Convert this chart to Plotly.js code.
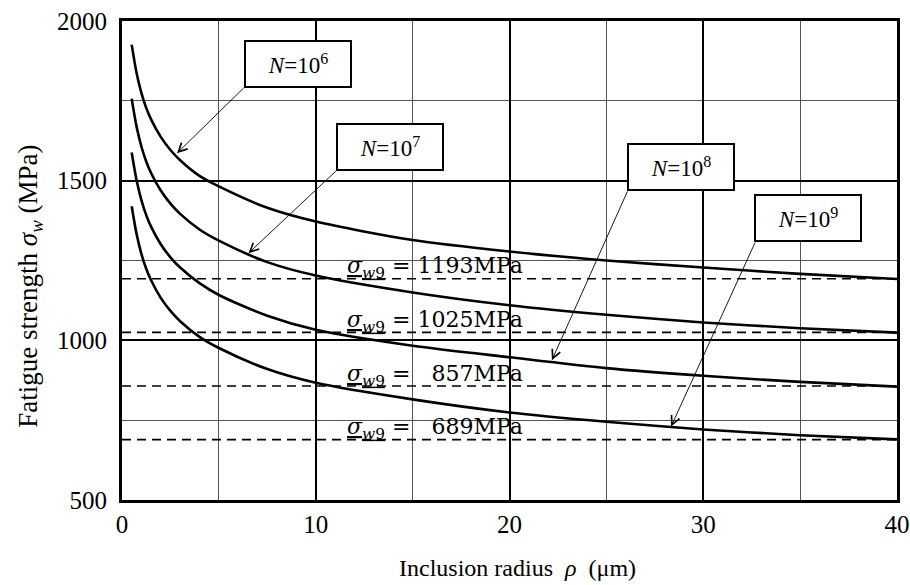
<!DOCTYPE html>
<html>
<head>
<meta charset="utf-8">
<script src="https://cdn.plot.ly/plotly-3.0.1.min.js"></script>
<style>html,body{margin:0;padding:0;background:#fff}#chart{width:910px;height:585px}</style>
</head>
<body>
<div id="chart"></div>
<script>
// Inclusion radius rho (um)
const rho = [0.5, 0.75, 1, 1.25, 1.5, 2, 2.5, 3, 4, 5, 7.5, 10, 15, 20, 25, 30, 35, 40];
// Fatigue strength curves (MPa)
const sigmaN6 = [1926, 1838, 1775, 1728, 1692, 1637, 1596, 1564, 1515, 1482, 1415, 1372, 1314, 1278, 1250, 1228, 1208, 1192];
const sigmaN7 = [1757, 1670, 1607, 1560, 1524, 1469, 1428, 1396, 1347, 1312, 1245, 1203, 1150, 1110, 1080, 1056, 1038, 1024];
const sigmaN8 = [1588, 1502, 1439, 1392, 1356, 1301, 1260, 1228, 1179, 1142, 1077, 1033, 983, 947, 913, 889, 870, 855];
const sigmaN9 = [1420, 1334, 1271, 1224, 1188, 1133, 1092, 1060, 1011, 976, 910, 867, 815, 774, 745, 721, 703, 690];
// Limit values sigma_w9 (MPa)
const sigmaW9 = [1193, 1025, 857, 689];
const sigmaW9Labels = ['1193MPa', '1025MPa', '\u00a0\u00a0857MPa', '\u00a0\u00a0689MPa'];
const curveLabels = ['<i>N</i>=10<sup>6</sup>', '<i>N</i>=10<sup>7</sup>', '<i>N</i>=10<sup>8</sup>', '<i>N</i>=10<sup>9</sup>'];
const xRange = [0, 40];
const yRange = [500, 2000];

const curves = [sigmaN6, sigmaN7, sigmaN8, sigmaN9];
const traces = [];
curves.forEach(c => traces.push({
  x: rho, y: c, mode: 'lines', type: 'scatter',
  line: {color: '#000', width: 2.6, shape: 'spline', smoothing: 0.8}, hoverinfo: 'skip'
}));
sigmaW9.forEach(v => traces.push({
  x: xRange, y: [v, v], mode: 'lines', type: 'scatter',
  line: {color: '#000', width: 1.6, dash: '9px,6px'}, hoverinfo: 'skip'
}));

const serif = "'Liberation Serif', 'Times New Roman', serif";
const annotations = [];
// label boxes: box centre, arrow tail, arrow tip (data coordinates)
const boxes = [
  {c: [9.10, 1866], t: [6.36, 1795], h: [2.84, 1586]},
  {c: [13.84, 1606], t: [11.11, 1534], h: [6.53, 1273]},
  {c: [28.85, 1543], t: [26.12, 1471], h: [22.19, 938]},
  {c: [35.43, 1384], t: [32.71, 1311], h: [28.34, 730]}
];
boxes.forEach((b, i) => {
  annotations.push({
    x: b.h[0], y: b.h[1], ax: b.t[0], ay: b.t[1], axref: 'x', ayref: 'y', xref: 'x', yref: 'y',
    text: '', showarrow: true, arrowhead: 5, arrowsize: 1.9, arrowwidth: 0.9, arrowcolor: '#000', standoff: 0
  });
  annotations.push({
    x: b.c[0], y: b.c[1], xref: 'x', yref: 'y', text: curveLabels[i], showarrow: false,
    font: {family: serif, size: 23, color: '#000'},
    bgcolor: '#fff', bordercolor: '#000', borderwidth: 2, borderpad: 2, width: 100, height: 40
  });
});
sigmaW9.forEach((v, i) => {
  annotations.push({
    x: 11.5, y: v + 34, xref: 'x', yref: 'y', xanchor: 'left', yanchor: 'middle', showarrow: false,
    text: '<u><i>σ</i><sub><i>w</i>9</sub></u>\u00a0=\u00a0' + sigmaW9Labels[i],
    font: {family: "'DejaVu Serif', serif", size: 22, color: '#000'}
  });
});
annotations.push({
  xref: 'paper', yref: 'paper', x: -0.119, y: 0.447, xanchor: 'center', yanchor: 'middle',
  textangle: -90, showarrow: false,
  text: 'Fatigue strength <i>σ<sub>w</sub></i> (MPa)', font: {family: serif, size: 27, color: '#000'}
});
annotations.push({
  xref: 'paper', yref: 'paper', x: 0.51, y: -0.142, xanchor: 'center', yanchor: 'middle', showarrow: false,
  text: 'Inclusion radius \u00a0<i>ρ</i>\u00a0 (μm)', font: {family: serif, size: 24, color: '#000'}
});

const layout = {
  width: 910, height: 585,
  margin: {l: 122, r: 13, t: 21, b: 85},
  paper_bgcolor: '#fff', plot_bgcolor: '#fff',
  showlegend: false,
  xaxis: {
    range: xRange, dtick: 10, tick0: 0, showgrid: true, gridcolor: '#000', gridwidth: 2,
    minor: {dtick: 5, showgrid: true, gridcolor: '#555', gridwidth: 1, ticks: ''},
    showline: true, mirror: true, linecolor: '#000', linewidth: 3, zeroline: false,
    ticks: '', ticklabelstandoff: 0, tickfont: {family: serif, size: 25, color: '#000'}
  },
  yaxis: {
    range: yRange, dtick: 500, tick0: 500, showgrid: true, gridcolor: '#000', gridwidth: 2,
    minor: {dtick: 250, showgrid: true, gridcolor: '#555', gridwidth: 1, ticks: ''},
    showline: true, mirror: true, linecolor: '#000', linewidth: 3, zeroline: false,
    ticks: '', ticklabelstandoff: 7, tickfont: {family: serif, size: 25, color: '#000'}
  },
  annotations: annotations
};
Plotly.newPlot('chart', traces, layout, {staticPlot: true});
</script>
</body>
</html>
